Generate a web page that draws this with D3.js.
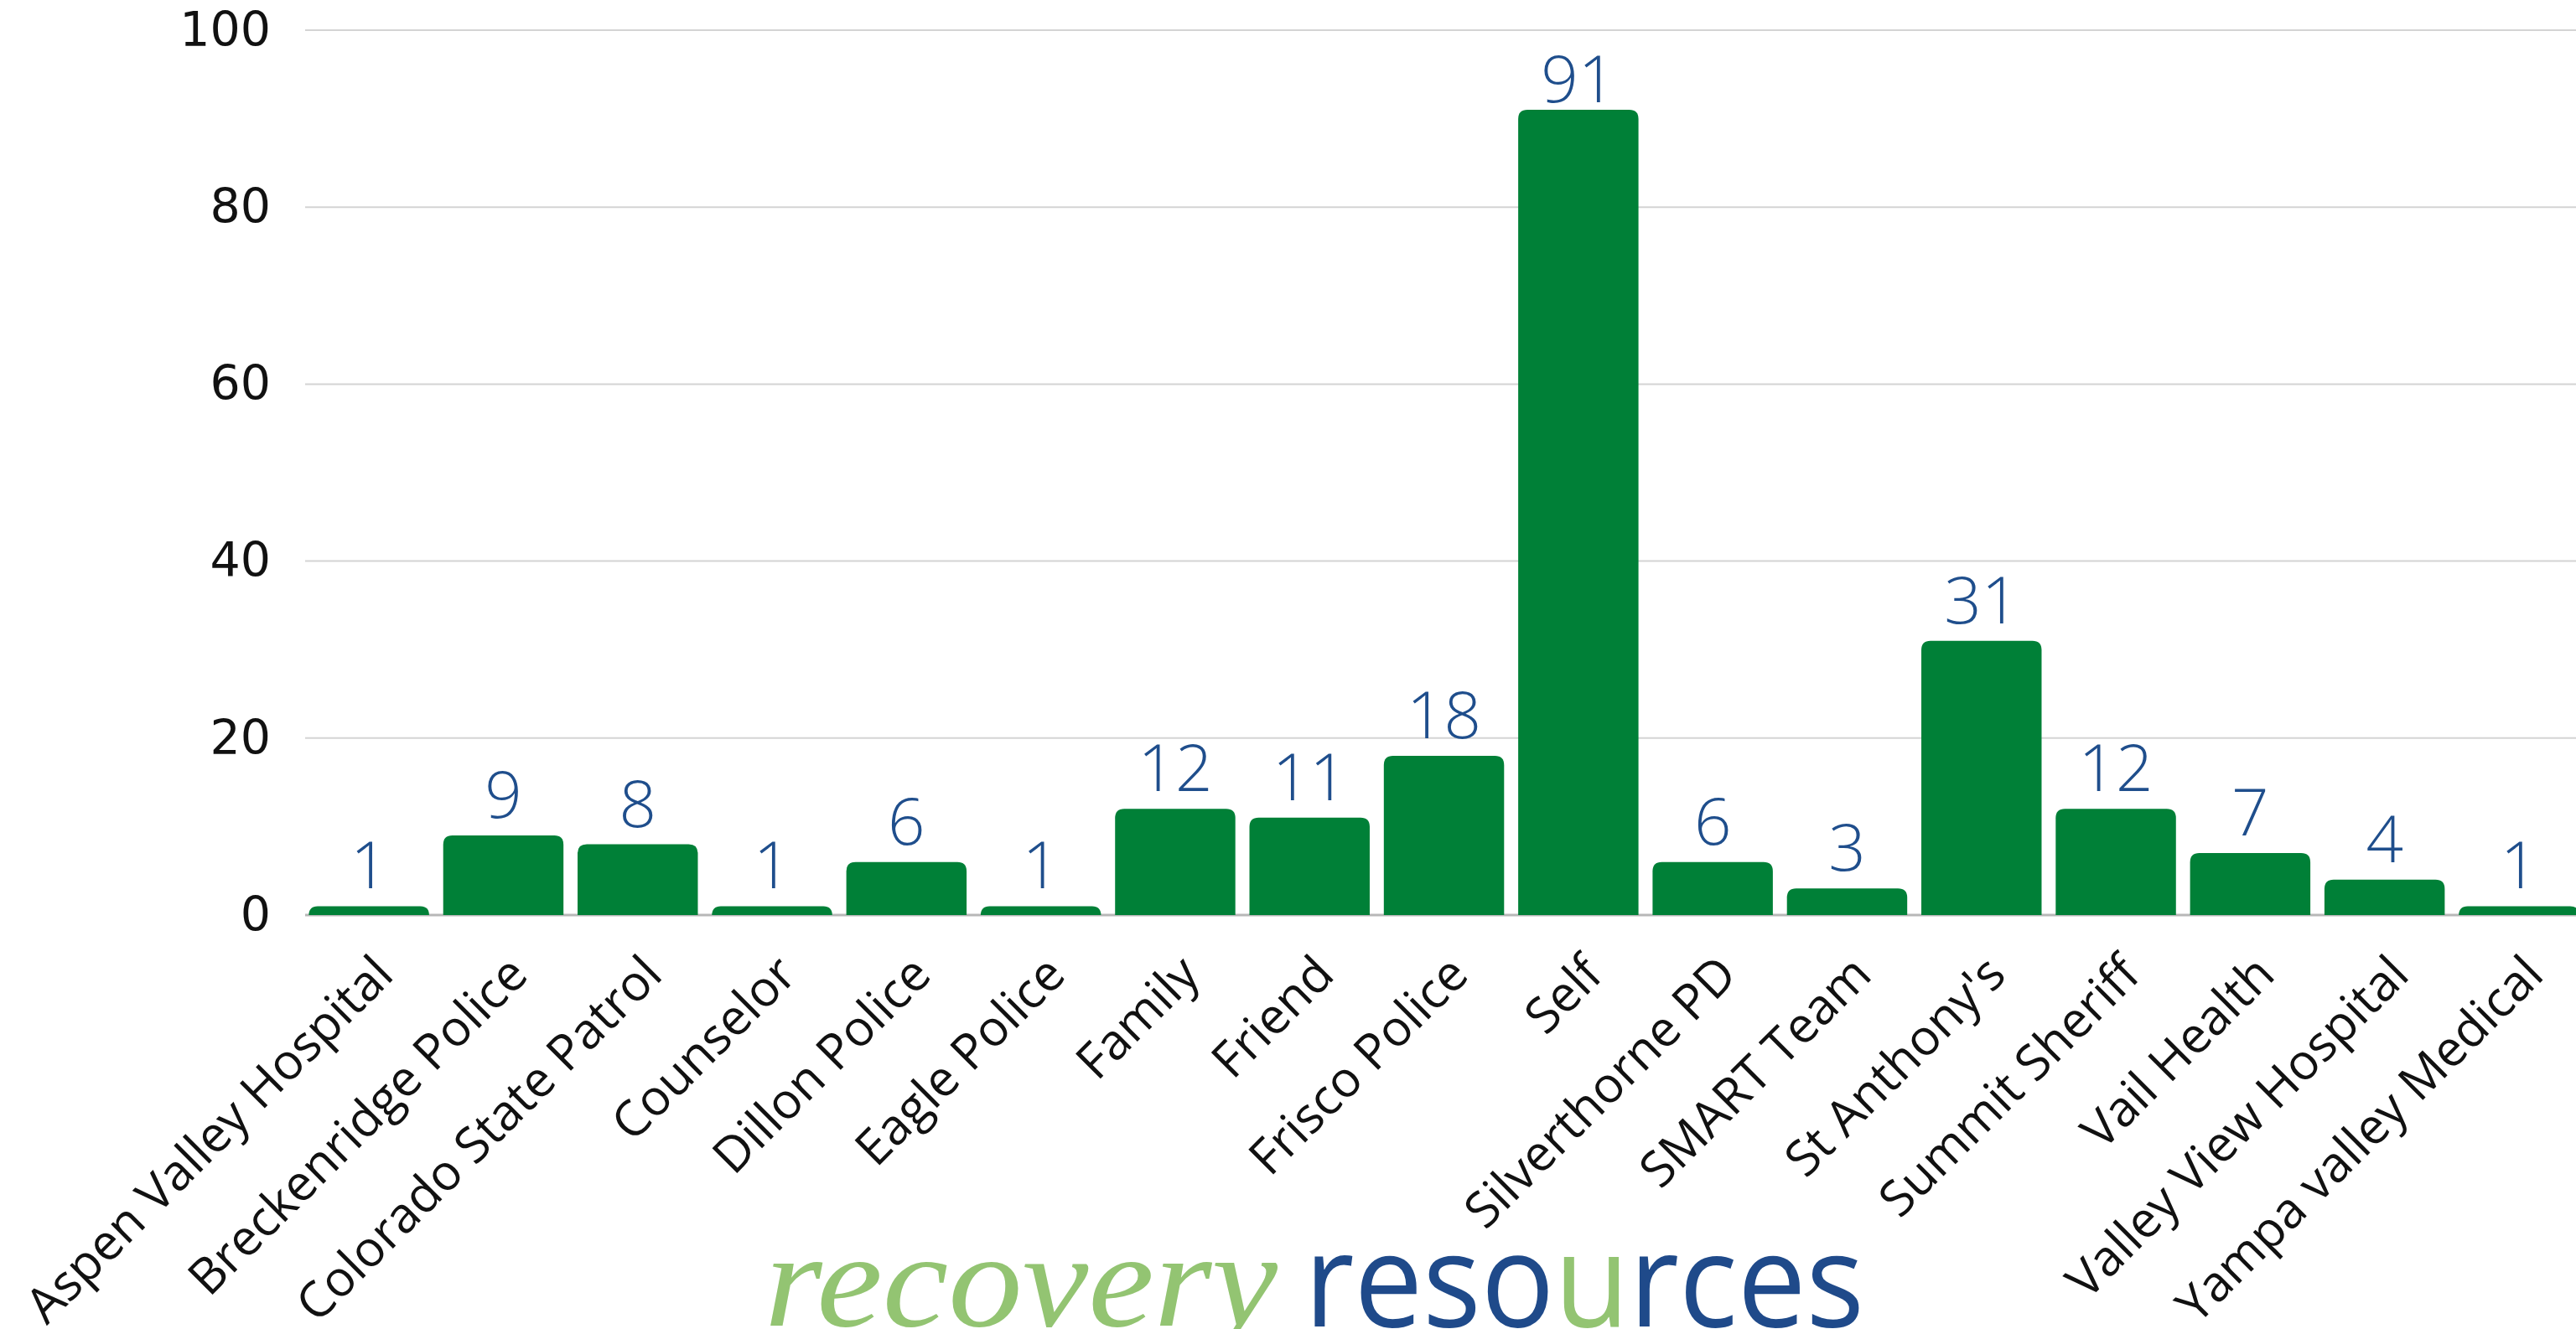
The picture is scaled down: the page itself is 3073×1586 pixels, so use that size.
<!DOCTYPE html>
<html><head><meta charset="utf-8">
<script src="https://cdn.jsdelivr.net/npm/d3@7"></script>
<style>body{margin:0;background:#fff;} svg{display:block}</style>
</head><body>
<script>
const categories = ["Aspen Valley Hospital","Breckenridge Police","Colorado State Patrol","Counselor","Dillon Police","Eagle Police","Family","Friend","Frisco Police","Self","Silverthorne PD","SMART Team","St Anthony's","Summit Sheriff","Vail Health","Valley View Hospital","Yampa valley Medical"];
const values = [1,9,8,1,6,1,12,11,18,91,6,3,31,12,7,4,1];
const yTicks = [0,20,40,60,80,100];
const logoLeft = "recovery";
const logoRight = ["reso","u","rces"];

const W = 3073, H = 1586;
const plotLeft = 360, step = 160.3;
const data = categories.map((c,i)=>({c, v: values[i]}));

const svg = d3.select("body").append("svg").attr("width", W).attr("height", H);

const x = d3.scaleBand().domain(categories)
  .range([plotLeft, plotLeft + categories.length*step])
  .paddingInner(0.105).paddingOuter(0.0525);
const y = d3.scaleLinear().domain([0,100]).range([1092, 36]);

// gridlines
svg.append("g").selectAll("line").data(yTicks.filter(t=>t>0)).join("line")
  .attr("x1", plotLeft + 4).attr("x2", W)
  .attr("y1", d=>y(d)).attr("y2", d=>y(d))
  .attr("stroke", "#d4d4d4").attr("stroke-width", 2);

// baseline
svg.append("line").attr("x1", plotLeft + 4).attr("x2", W)
  .attr("y1", y(0)).attr("y2", y(0))
  .attr("stroke", "#b8b8b8").attr("stroke-width", 3);

// y axis labels
const yAxis = d3.axisLeft(y).tickValues(yTicks).tickSize(0).tickPadding(37);
const gy = svg.append("g").attr("transform", `translate(${plotLeft},0)`).call(yAxis);
gy.select(".domain").remove();
gy.selectAll("text").attr("font-family","'DejaVu Sans', sans-serif").attr("font-size",57).attr("fill","#111");

// bars with rounded top corners
const r = 11;
function barPath(d){
  const x0 = x(d.c), w = x.bandwidth(), y0 = y(0), y1 = y(d.v);
  const h = y0 - y1; const rr = Math.min(r, h, w/2);
  return `M${x0},${y0}V${y1+rr}Q${x0},${y1} ${x0+rr},${y1}H${x0+w-rr}Q${x0+w},${y1} ${x0+w},${y1+rr}V${y0}Z`;
}
svg.append("g").selectAll("path").data(data).join("path")
  .attr("d", barPath).attr("fill", "#008037");

// value labels
const labelClamp = 122;
svg.append("g").selectAll("text").data(data).join("text")
  .attr("x", d=>x(d.c)+x.bandwidth()/2)
  .attr("y", d=>Math.max(y(d.v)-21, labelClamp))
  .attr("text-anchor","middle")
  .attr("font-family","'Open Sans', sans-serif").attr("font-weight",300)
  .attr("font-size",78).attr("fill","#1f4e8c")
  .text(d=>d.v);

// x labels
svg.append("g").selectAll("text").data(categories).join("text")
  .attr("transform", c=>`translate(${x(c)+x.bandwidth()/2+32},${y(0)+74}) rotate(-45)`)
  .attr("text-anchor","end")
  .attr("font-family","'Open Sans', sans-serif").attr("font-size",59).attr("fill","#111")
  .text(c=>c);

// logo
svg.append("text").attr("x", 912).attr("y", 1582)
  .attr("font-family","'Liberation Serif', serif").attr("font-style","italic")
  .attr("font-size",160).attr("fill","#93c472")
  .attr("textLength", 612).attr("lengthAdjust","spacingAndGlyphs")
  .text(logoLeft);
const lr = svg.append("text").attr("x", 1556).attr("y", 1583)
  .attr("font-family","'Open Sans', sans-serif").attr("font-size",155).attr("fill","#1f4a8a")
  .attr("textLength", 668).attr("lengthAdjust","spacingAndGlyphs");
logoRight.forEach((s,i)=>lr.append("tspan").attr("fill", i===1?"#93c472":"#1f4a8a").text(s));
</script>
</body></html>
